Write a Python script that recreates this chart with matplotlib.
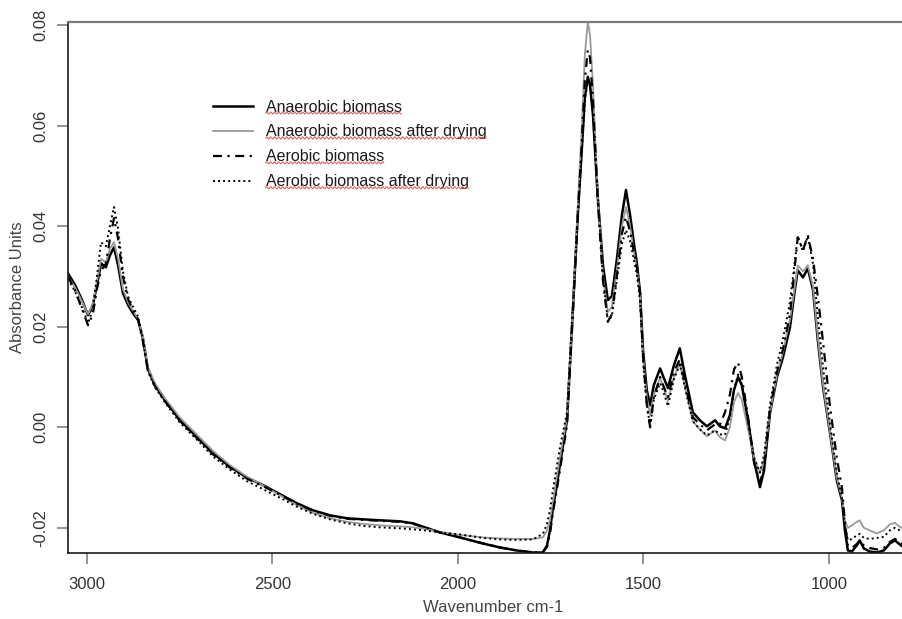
import numpy as np
import matplotlib
matplotlib.use("Agg")
import matplotlib.pyplot as plt
from matplotlib.lines import Line2D

plt.rcParams['font.family'] = ['Liberation Sans', 'DejaVu Sans']

# Wavenumber grid (cm-1) shared by all four spectra
wavenumber = [
    3051, 3032, 3013, 2997, 2984, 2973, 2962, 2949, 2938, 2927, 2916, 2903,
    2889, 2876, 2862, 2849, 2836, 2817, 2790, 2749, 2695, 2660, 2615, 2569,
    2520, 2480, 2434, 2391, 2345, 2299, 2256, 2210, 2156, 2121, 2089, 2049,
    1995, 1933, 1887, 1841, 1798, 1771, 1760, 1752, 1744, 1736, 1725, 1706,
    1690, 1677, 1666, 1658, 1650, 1644, 1636, 1623, 1609, 1596, 1585, 1572,
    1558, 1547, 1536, 1525, 1518, 1509, 1501, 1491, 1482, 1472, 1455, 1445,
    1434, 1418, 1402, 1388, 1367, 1348, 1329, 1307, 1294, 1280, 1267, 1256,
    1245, 1235, 1218, 1202, 1186, 1175, 1159, 1140, 1124, 1105, 1092, 1084,
    1070, 1057, 1043, 1030, 1016, 997, 979, 965, 957, 949, 938, 925,
    917, 906, 890, 871, 852, 836, 822, 809, 795,
]

anaerobic = [
    0.0306, 0.0283, 0.0253, 0.0223, 0.0243, 0.0283, 0.0326, 0.0318, 0.0342, 0.0358, 0.0322, 0.0267,
    0.0243, 0.0227, 0.0213, 0.0177, 0.0117, 0.0084, 0.0054, 0.0014, -0.0026, -0.0052, -0.0078, -0.0100,
    -0.0117, -0.0133, -0.0151, -0.0165, -0.0175, -0.0181, -0.0183, -0.0185, -0.0187, -0.0191, -0.0199, -0.0209,
    -0.0219, -0.0231, -0.0239, -0.0245, -0.0249, -0.0249, -0.0235, -0.0205, -0.0161, -0.0127, -0.0074, 0.0014,
    0.0237, 0.0422, 0.0555, 0.0655, 0.0697, 0.0681, 0.0621, 0.0456, 0.0322, 0.0253, 0.0261, 0.0332,
    0.0422, 0.0472, 0.0422, 0.0362, 0.0328, 0.0267, 0.0153, 0.0074, 0.0044, 0.0084, 0.0117, 0.0098,
    0.0078, 0.0123, 0.0157, 0.0103, 0.0030, 0.0014, 0.0002, 0.0014, 0.0002, -0.0002, 0.0024, 0.0074,
    0.0100, 0.0084, 0.0014, -0.0066, -0.0119, -0.0086, 0.0028, 0.0100, 0.0139, 0.0199, 0.0273, 0.0312,
    0.0298, 0.0316, 0.0273, 0.0173, 0.0080, -0.0012, -0.0105, -0.0145, -0.0205, -0.0245, -0.0247, -0.0235,
    -0.0225, -0.0241, -0.0247, -0.0249, -0.0245, -0.0231, -0.0225, -0.0233, -0.0241,
]

anaerobic_dried = [
    0.0300, 0.0278, 0.0250, 0.0225, 0.0245, 0.0290, 0.0335, 0.0328, 0.0355, 0.0368, 0.0335, 0.0275,
    0.0248, 0.0232, 0.0215, 0.0180, 0.0120, 0.0088, 0.0058, 0.0019, -0.0021, -0.0047, -0.0075, -0.0098,
    -0.0118, -0.0135, -0.0155, -0.0170, -0.0181, -0.0188, -0.0192, -0.0195, -0.0197, -0.0199, -0.0202, -0.0208,
    -0.0214, -0.0219, -0.0221, -0.0222, -0.0222, -0.0219, -0.0205, -0.0185, -0.0150, -0.0110, -0.0060, 0.0020,
    0.0240, 0.0440, 0.0600, 0.0740, 0.0806, 0.0780, 0.0680, 0.0460, 0.0300, 0.0229, 0.0240, 0.0310,
    0.0400, 0.0438, 0.0400, 0.0345, 0.0315, 0.0260, 0.0140, 0.0060, 0.0025, 0.0065, 0.0098, 0.0078,
    0.0052, 0.0100, 0.0127, 0.0080, 0.0012, -0.0004, -0.0018, -0.0006, -0.0020, -0.0026, 0.0000, 0.0050,
    0.0068, 0.0055, -0.0005, -0.0060, -0.0090, -0.0065, 0.0030, 0.0105, 0.0150, 0.0215, 0.0280, 0.0322,
    0.0310, 0.0322, 0.0280, 0.0180, 0.0085, -0.0010, -0.0100, -0.0140, -0.0185, -0.0200, -0.0195, -0.0188,
    -0.0185, -0.0200, -0.0205, -0.0211, -0.0205, -0.0193, -0.0190, -0.0198, -0.0203,
]

aerobic = [
    0.0300, 0.0272, 0.0235, 0.0203, 0.0225, 0.0275, 0.0312, 0.0325, 0.0375, 0.0416, 0.0375, 0.0300,
    0.0255, 0.0233, 0.0215, 0.0170, 0.0115, 0.0082, 0.0052, 0.0012, -0.0028, -0.0054, -0.0080, -0.0102,
    -0.0119, -0.0134, -0.0152, -0.0166, -0.0176, -0.0182, -0.0184, -0.0186, -0.0188, -0.0192, -0.0199, -0.0209,
    -0.0219, -0.0231, -0.0239, -0.0245, -0.0249, -0.0248, -0.0238, -0.0212, -0.0170, -0.0135, -0.0085, 0.0005,
    0.0230, 0.0420, 0.0570, 0.0690, 0.0750, 0.0735, 0.0650, 0.0450, 0.0290, 0.0210, 0.0225, 0.0300,
    0.0385, 0.0418, 0.0390, 0.0345, 0.0320, 0.0265, 0.0140, 0.0045, 0.0000, 0.0060, 0.0100, 0.0080,
    0.0060, 0.0110, 0.0135, 0.0090, 0.0020, 0.0006, -0.0006, 0.0006, 0.0005, 0.0030, 0.0065, 0.0115,
    0.0129, 0.0100, 0.0020, -0.0070, -0.0110, -0.0080, 0.0035, 0.0110, 0.0155, 0.0225, 0.0320, 0.0378,
    0.0352, 0.0382, 0.0335, 0.0260, 0.0170, 0.0040, -0.0060, -0.0120, -0.0190, -0.0235, -0.0240, -0.0232,
    -0.0225, -0.0235, -0.0240, -0.0243, -0.0240, -0.0228, -0.0222, -0.0228, -0.0235,
]

aerobic_dried = [
    0.0295, 0.0270, 0.0238, 0.0207, 0.0235, 0.0300, 0.0368, 0.0360, 0.0400, 0.0438, 0.0395, 0.0310,
    0.0260, 0.0240, 0.0220, 0.0175, 0.0112, 0.0080, 0.0050, 0.0009, -0.0031, -0.0058, -0.0084, -0.0107,
    -0.0125, -0.0140, -0.0158, -0.0172, -0.0183, -0.0191, -0.0196, -0.0199, -0.0201, -0.0203, -0.0205, -0.0209,
    -0.0213, -0.0220, -0.0223, -0.0224, -0.0223, -0.0212, -0.0192, -0.0165, -0.0125, -0.0090, -0.0040, 0.0030,
    0.0245, 0.0425, 0.0550, 0.0650, 0.0690, 0.0680, 0.0620, 0.0460, 0.0300, 0.0210, 0.0222, 0.0290,
    0.0365, 0.0392, 0.0370, 0.0330, 0.0305, 0.0250, 0.0130, 0.0045, 0.0002, 0.0055, 0.0088, 0.0068,
    0.0042, 0.0095, 0.0125, 0.0078, 0.0012, -0.0004, -0.0016, -0.0006, -0.0014, -0.0015, 0.0020, 0.0075,
    0.0105, 0.0085, 0.0010, -0.0060, -0.0090, -0.0055, 0.0045, 0.0125, 0.0175, 0.0250, 0.0330, 0.0380,
    0.0350, 0.0380, 0.0325, 0.0220, 0.0120, 0.0005, -0.0090, -0.0140, -0.0195, -0.0225, -0.0222, -0.0215,
    -0.0212, -0.0220, -0.0222, -0.0220, -0.0218, -0.0205, -0.0200, -0.0205, -0.0210,
]

labels = [
    "Anaerobic biomass",
    "Anaerobic biomass after drying",
    "Aerobic biomass",
    "Aerobic biomass after drying",
]

W, H = 903, 619
fig = plt.figure(figsize=(W / 100, H / 100), dpi=100)
ax = fig.add_axes([68 / W, (H - 553) / H, (918 - 68) / W, (553 - 22) / H])

ax.plot(wavenumber, anaerobic, color="black", lw=1.8, label=labels[0])
ax.plot(wavenumber, anaerobic_dried, color="#9a9a9a", lw=1.3, label=labels[1])
ax.plot(wavenumber, aerobic, color="black", lw=1.6, ls=(0, (4, 2.5, 1, 2.5)), label=labels[2])
ax.plot(wavenumber, aerobic_dried, color="black", lw=1.4, ls=(0, (1, 1.6)), label=labels[3])

ax.set_xlim(3051, 760)
ax.set_ylim(-0.0250, 0.0806)
ax.set_xticks([3000, 2500, 2000, 1500, 1000])
ax.set_yticks([-0.02, 0.00, 0.02, 0.04, 0.06, 0.08])
ax.set_yticklabels(["-0.02", "0.00", "0.02", "0.04", "0.06", "0.08"],
                   rotation=90, va="center")

ax.tick_params(axis="both", direction="out", length=8, width=1.2,
               color="#808080", labelcolor="#333333", labelsize=12)
ax.tick_params(axis="x", pad=9)
ax.tick_params(axis="y", pad=6)

for side in ("left", "bottom"):
    ax.spines[side].set_color("#1a1a1a")
    ax.spines[side].set_linewidth(1.2)
ax.spines["top"].set_color("#7a7a7a")
ax.spines["top"].set_linewidth(1.6)
ax.spines["right"].set_visible(False)

ax.set_xlabel("Wavenumber cm-1", fontsize=12, color="#444444", labelpad=6)
ax.set_ylabel("Absorbance Units", fontsize=12, color="#444444", labelpad=6)

leg = ax.legend(loc="upper left", bbox_to_anchor=(213 / W, 1 - 99.5 / H),
                bbox_transform=fig.transFigure, frameon=False,
                fontsize=11.5, handlelength=2.5, handletextpad=0.8,
                labelspacing=0.62, borderpad=0, borderaxespad=0)
for t in leg.get_texts():
    t.set_color("#1a1a1a")

# red wavy spell-check underline beneath each legend entry
fig.canvas.draw()
renderer = fig.canvas.get_renderer()
for t in leg.get_texts():
    bb = t.get_window_extent(renderer)
    xs = np.arange(bb.x0, bb.x1, 0.5)
    base = bb.y0 + 0.10 * bb.height
    ys = base + 1.0 * np.sin((xs - bb.x0) * np.pi / 2.0)
    fig.add_artist(Line2D(xs / W, ys / H, transform=fig.transFigure,
                          color="#e04848", lw=0.8, alpha=0.85))

fig.savefig("out.png", dpi=100)
